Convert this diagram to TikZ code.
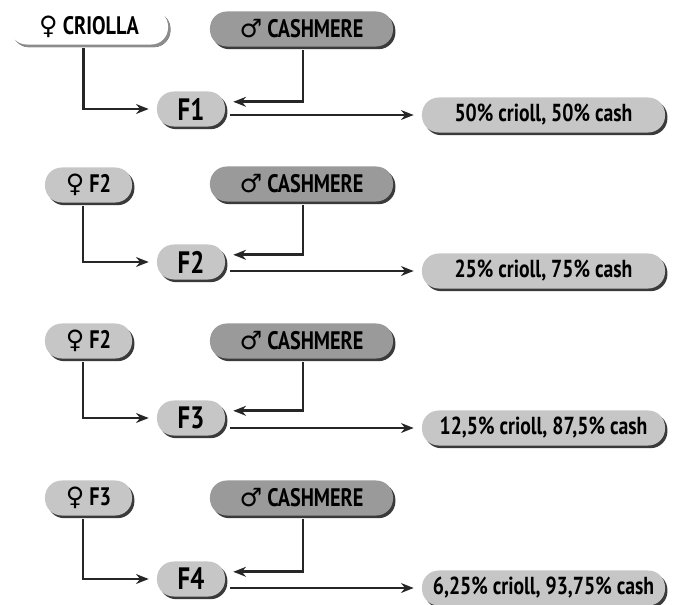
\documentclass[tikz,border=0pt]{standalone}
\usepackage{fontspec}
\setmainfont{PT Sans}
\newfontfamily\pillfont{PT Sans}[FakeStretch=0.8]
\newfontfamily\sexfont{DejaVu Sans}
\usetikzlibrary{arrows.meta, shadows}
\definecolor{pillwhite}{HTML}{FFFFFF}
\definecolor{pilllight}{HTML}{C6C6C6}
\definecolor{pilldark}{HTML}{9A9A9A}
\definecolor{pilledge}{HTML}{3A3A3A}
\newcommand{\fem}{{\sexfont\bfseries ♀}}
\newcommand{\mal}{{\sexfont\bfseries ♂}}
\newcommand{\pill}[5]{%
  \node[pill, #2, minimum width=#3] (#1) at (#4) {#5};}
\tikzset{
  pill/.style={rounded corners=0.42cm, minimum height=0.875cm, inner sep=0pt,
    font=\pillfont\bfseries\fontsize{18}{20}\selectfont,
    drop shadow={shadow xshift=1.7pt, shadow yshift=-1.9pt, fill=pilledge, opacity=1}},
  gen/.style={font=\pillfont\bfseries\fontsize{22}{24}\selectfont},
  mix/.style={font=\pillfont\bfseries\fontsize{17.5}{20}\selectfont},
  feed/.style={-{Stealth[length=9pt, width=7pt]}, line width=1.9pt, draw=black!85,
    shorten >=0.2cm, shorten <=0.08cm}
}

\begin{document}
\begin{tikzpicture}[x=0.025cm, y=-0.025cm]
  \useasboundingbox (0,0) rectangle (673,605);
  % first cross
  \pill{fem1}{fill=pillwhite, drop shadow={shadow xshift=1.7pt, shadow yshift=-1.9pt, fill=black!45, opacity=1}}{3.95cm}{89,27}{\fem\ CRIOLLA}
  \pill{mal1}{fill=pilldark}{4.575cm}{301.5,29}{\mal\ CASHMERE}
  \pill{f1}{fill=pilllight, gen}{1.7cm}{191,109}{F1}
  \pill{o1}{fill=pilllight, mix}{6.075cm}{543.5,115}{50\% crioll, 50\% cash}
  \draw[feed] ([xshift=-0.14cm]fem1.south) |- (f1.west);
  \draw[feed] ([xshift=0.04cm]mal1.south) |- ([yshift=0.18cm]f1.east);
  \draw[feed, shorten <=0.12cm] (f1.east |- o1.west) -- (o1.west);
  % second cross
  \pill{fem2}{fill=pilllight}{2.175cm}{88.5,185}{\fem\ F2}
  \pill{mal2}{fill=pilldark}{4.575cm}{301.5,184}{\mal\ CASHMERE}
  \pill{f2}{fill=pilllight, gen}{1.7cm}{191,262}{F2}
  \pill{o2}{fill=pilllight, mix}{6.075cm}{543.5,271}{25\% crioll, 75\% cash}
  \draw[feed] ([xshift=-0.14cm]fem2.south) |- (f2.west);
  \draw[feed] ([xshift=0.04cm]mal2.south) |- ([yshift=0.18cm]f2.east);
  \draw[feed, shorten <=0.12cm] (f2.east |- o2.west) -- (o2.west);
  % third cross
  \pill{fem3}{fill=pilllight}{2.175cm}{88.5,341}{\fem\ F2}
  \pill{mal3}{fill=pilldark}{4.575cm}{301.5,341}{\mal\ CASHMERE}
  \pill{f3}{fill=pilllight, gen}{1.7cm}{191,418}{F3}
  \pill{o3}{fill=pilllight, mix}{6.075cm}{543.5,428}{12,5\% crioll, 87,5\% cash}
  \draw[feed] ([xshift=-0.14cm]fem3.south) |- (f3.west);
  \draw[feed] ([xshift=0.04cm]mal3.south) |- ([yshift=0.18cm]f3.east);
  \draw[feed, shorten <=0.12cm] (f3.east |- o3.west) -- (o3.west);
  % fourth cross
  \pill{fem4}{fill=pilllight}{2.175cm}{88.5,498}{\fem\ F3}
  \pill{mal4}{fill=pilldark}{4.575cm}{301.5,498}{\mal\ CASHMERE}
  \pill{f4}{fill=pilllight, gen}{1.7cm}{191,579}{F4}
  \pill{o4}{fill=pilllight, mix}{6.075cm}{543.5,588}{6,25\% crioll, 93,75\% cash}
  \draw[feed] ([xshift=-0.14cm]fem4.south) |- (f4.west);
  \draw[feed] ([xshift=0.04cm]mal4.south) |- ([yshift=0.18cm]f4.east);
  \draw[feed, shorten <=0.12cm] (f4.east |- o4.west) -- (o4.west);
\end{tikzpicture}
\end{document}
